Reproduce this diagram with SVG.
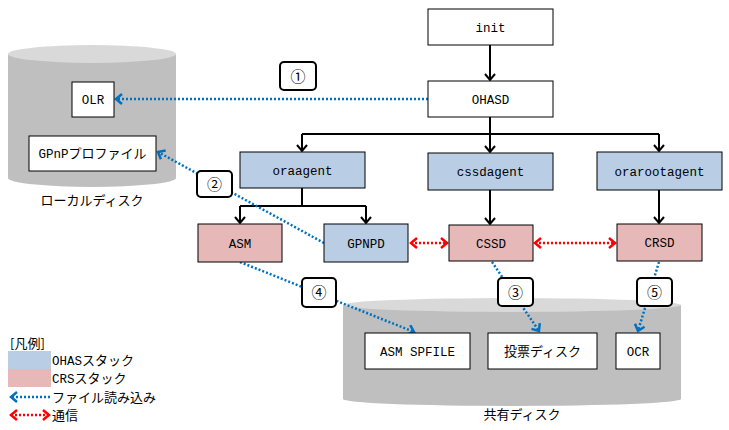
<svg xmlns="http://www.w3.org/2000/svg" width="729" height="430" viewBox="0 0 729 430">
<style>
.box{fill:#fff;stroke:#000;stroke-width:1}
.ohas{fill:#B9CDE5;stroke:#000;stroke-width:1}
.crs{fill:#E6B9B8;stroke:#000;stroke-width:1}
.num{fill:#fff;stroke:#000;stroke-width:2}
.t{font-family:"Liberation Mono","Noto Sans CJK JP",monospace;font-size:12.5px;fill:#000;text-anchor:middle}
.j{font-family:"Noto Sans CJK JP","Liberation Sans",sans-serif;font-size:13px}
.n{font-family:"Noto Sans CJK JP","DejaVu Sans",sans-serif;font-size:15px}
.tl{text-anchor:start}
.k{fill:none;stroke:#000;stroke-width:2}
.bl{fill:none;stroke:#0070C0;stroke-width:2.5;stroke-dasharray:2 2}
.rd{fill:none;stroke:#FF0000;stroke-width:2.5;stroke-dasharray:2 2}
.cyl{fill:#BFBFBF}
.cyltop{fill:#D9D9D9}
</style>
<defs>
<marker id="ak" markerWidth="12" markerHeight="12" refX="10" refY="6" orient="auto" markerUnits="userSpaceOnUse"><path d="M4,1 L10,6 L4,11" fill="none" stroke="#000" stroke-width="2"/></marker>
<marker id="ab" markerWidth="12" markerHeight="12" refX="10" refY="6" orient="auto" markerUnits="userSpaceOnUse"><path d="M4,1 L10,6 L4,11" fill="none" stroke="#0070C0" stroke-width="2.5"/></marker>
<marker id="ar" markerWidth="12" markerHeight="12" refX="10" refY="6" orient="auto-start-reverse" markerUnits="userSpaceOnUse"><path d="M4,1 L10,6 L4,11" fill="none" stroke="#FF0000" stroke-width="2.5"/></marker>
</defs>

<g id="local-disk">
<path class="cyl" d="M8,54 L8,178 A84,9 0 0 0 176,178 L176,54 Z"/>
<ellipse class="cyltop" cx="92" cy="54" rx="84" ry="9"/>
<text class="t j" x="92" y="204.5">ローカルディスク</text>
</g>
<g id="shared-disk">
<path class="cyl" d="M343,305 L343,399 A169,7 0 0 0 681,399 L681,305 Z"/>
<ellipse class="cyltop" cx="512" cy="305" rx="169" ry="7"/>
<text class="t j" x="522" y="418.5">共有ディスク</text>
</g>

<g id="connectors">
<path class="k" d="M490,45 V80" marker-end="url(#ak)"/>
<path class="k" d="M490,117 V134"/>
<path class="k" d="M302,134 H659"/>
<path class="k" d="M302,134 V151" marker-end="url(#ak)"/>
<path class="k" d="M490,134 V152" marker-end="url(#ak)"/>
<path class="k" d="M659,134 V151" marker-end="url(#ak)"/>
<path class="k" d="M302,188 V206 M240,206 H366"/>
<path class="k" d="M240,206 V223" marker-end="url(#ak)"/>
<path class="k" d="M366,206 V223" marker-end="url(#ak)"/>
<path class="k" d="M490,190 V224" marker-end="url(#ak)"/>
<path class="k" d="M659,190 V223" marker-end="url(#ak)"/>
<path class="rd" d="M411,243 H447" marker-start="url(#ar)" marker-end="url(#ar)"/>
<path class="rd" d="M535,243 H615" marker-start="url(#ar)" marker-end="url(#ar)"/>
<path class="bl" d="M428,99 H116" marker-end="url(#ab)"/>
<path class="bl" d="M324,243 L158,152" marker-end="url(#ab)"/>
<path class="bl" d="M240,262 L414,332" marker-end="url(#ab)"/>
<path class="bl" d="M492,262 L539,331" marker-end="url(#ab)"/>
<path class="bl" d="M659,262 L638,331" marker-end="url(#ab)"/>
</g>

<g id="init"><rect class="box" x="428" y="9" width="125" height="36"/><text class="t" x="490.5" y="31.5">init</text></g>
<g id="OHASD"><rect class="box" x="428" y="81" width="125" height="36"/><text class="t" x="490.5" y="103.5">OHASD</text></g>
<g id="OLR"><rect class="box" x="72" y="82" width="42" height="35"/><text class="t" x="93" y="104">OLR</text></g>
<g id="GPnP"><rect class="box" x="29" y="136" width="127" height="35"/><text class="t" x="92.5" y="158">GPnP<tspan class="j">プロファイル</tspan></text></g>
<g id="oraagent"><rect class="ohas" x="240" y="152" width="125" height="36"/><text class="t" x="302.5" y="174.5">oraagent</text></g>
<g id="cssdagent"><rect class="ohas" x="428" y="153" width="125" height="37"/><text class="t" x="490.5" y="176">cssdagent</text></g>
<g id="orarootagent"><rect class="ohas" x="597" y="152" width="125" height="38"/><text class="t" x="659.5" y="175.5">orarootagent</text></g>
<g id="ASM"><rect class="crs" x="198" y="224" width="84" height="38"/><text class="t" x="240" y="247.5">ASM</text></g>
<g id="GPNPD"><rect class="ohas" x="324" y="224" width="84" height="38"/><text class="t" x="366" y="247.5">GPNPD</text></g>
<g id="CSSD"><rect class="crs" x="449" y="225" width="84" height="36"/><text class="t" x="491" y="247.5">CSSD</text></g>
<g id="CRSD"><rect class="crs" x="617" y="224" width="85" height="37"/><text class="t" x="659.5" y="247">CRSD</text></g>
<g id="ASM-SPFILE"><rect class="box" x="365" y="333" width="105" height="36"/><text class="t" x="417.5" y="355.5">ASM SPFILE</text></g>
<g id="voting-disk"><rect class="box" x="488" y="333" width="109" height="36"/><text class="t j" x="542.5" y="355.5">投票ディスク</text></g>
<g id="OCR"><rect class="box" x="616" y="333" width="44" height="36"/><text class="t" x="638" y="355.5">OCR</text></g>

<g id="n1"><rect class="num" x="280" y="62" width="36" height="28" rx="4"/><text class="t n" x="298" y="81.5">①</text></g>
<g id="n2"><rect class="num" x="197" y="171" width="35" height="26" rx="4"/><text class="t n" x="214.5" y="189.5">②</text></g>
<g id="n3"><rect class="num" x="498" y="278" width="35" height="28" rx="4"/><text class="t n" x="515.5" y="297.5">③</text></g>
<g id="n4"><rect class="num" x="302" y="278" width="34" height="29" rx="4"/><text class="t n" x="319" y="298">④</text></g>
<g id="n5"><rect class="num" x="637" y="278" width="35" height="28" rx="4"/><text class="t n" x="654.5" y="297.5">⑤</text></g>

<g id="legend">
<text class="t j tl" x="10" y="347.5">[凡例]</text>
<rect x="8" y="351" width="43" height="18" fill="#B9CDE5"/>
<rect x="8" y="369" width="43" height="18" fill="#E6B9B8"/>
<text class="t tl" x="52" y="365">OHAS<tspan class="j">スタック</tspan></text>
<text class="t tl" x="52" y="383">CRS<tspan class="j">スタック</tspan></text>
<path class="bl" d="M50,397 H11" marker-end="url(#ab)"/>
<text class="t j tl" x="52" y="401.5">ファイル読み込み</text>
<path class="rd" d="M11,415 H49" marker-start="url(#ar)" marker-end="url(#ar)"/>
<text class="t j tl" x="52" y="419.5">通信</text>
</g>
</svg>
